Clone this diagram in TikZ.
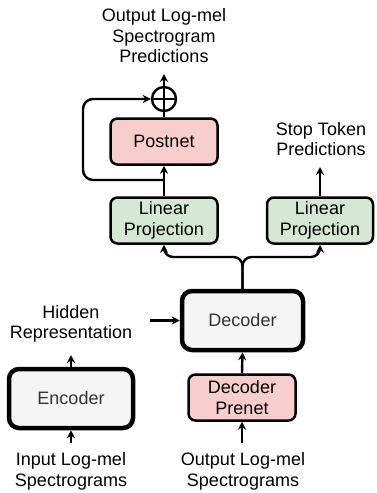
\documentclass[tikz,border=0pt]{standalone}
\usepackage{fontspec}
\setmainfont{Liberation Sans}
\usetikzlibrary{arrows.meta}
\begin{document}
\begin{tikzpicture}[x=1pt,y=-1pt,
  txt/.style={align=center, inner sep=0pt, font=\fontsize{18}{20.5}\selectfont},
  thinbox/.style={txt, draw, line width=2.5pt, rounded corners=7pt},
  thickbox/.style={txt, draw, line width=4.5pt, rounded corners=10pt, fill=boxgray, text=textgray},
  conn/.style={line width=2.4pt},
  arr/.style={conn, -{Stealth[length=8pt,width=8pt]}}
]
\definecolor{pinkfill}{HTML}{F8CECC}
\definecolor{greenfill}{HTML}{D5E8D4}
\definecolor{boxgray}{HTML}{F5F5F5}
\definecolor{textgray}{HTML}{333333}
\useasboundingbox (0,0) rectangle (376,493);

% boxes
\node[thinbox, fill=pinkfill, minimum width=107pt, minimum height=46pt] (postnet) at (164,141.5) {Postnet};
\node[thinbox, fill=greenfill, minimum width=107pt, minimum height=46pt] (linL) at (164,220.5) {Linear\\Projection};
\node[thinbox, fill=greenfill, minimum width=106pt, minimum height=46pt] (linR) at (320,220.5) {Linear\\Projection};
\node[thickbox, minimum width=121pt, minimum height=59pt] (decoder) at (242.5,320.5) {Decoder};
\node[thickbox, minimum width=124pt, minimum height=59pt] (encoder) at (71,398.5) {Encoder};
\node[thinbox, fill=pinkfill, minimum width=107pt, minimum height=46pt] (prenet) at (242,397.5) {Decoder\\Prenet};

% plus
\node[draw, circle, line width=2.4pt, minimum size=24pt, inner sep=0pt] (plus) at (164,99) {};
\draw[conn] (plus.north) -- (plus.south) (plus.west) -- (plus.east);

% labels
\node[txt] (outlabel) at (164,36) {Output Log-mel\\Spectrogram\\Predictions};
\node[txt] (stoplabel) at (321,139) {Stop Token\\Predictions};
\node[txt] (hidden) at (71,324) {Hidden\\Representation};
\node[txt] (inlabel) at (71,471.5) {Input Log-mel\\Spectrograms};
\node[txt] (outspec) at (243,471.5) {Output Log-mel\\Spectrograms};

% free ends
\coordinate (outtip) at (164,74);
\coordinate (stoptip) at (320,167);
\coordinate (hidstart) at (150,320.5);
\coordinate (enctip) at (71,355);
\coordinate (instart) at (71,443);
\coordinate (outstart) at (242,443);
\coordinate (fb) at (164,180);

% connectors
\draw[arr] (plus.north) -- (outtip);
\draw[conn] (postnet.north) -- (plus.south);
\draw[arr] (linL.north) -- (postnet.south);
\draw[arr, rounded corners=10pt] (fb) -- (83,180) -- (83,99) -- (plus.west);
\draw[arr] (linR.north) -- (stoptip);
\draw[arr, rounded corners=9pt] (decoder.north) -- (decoder.north |- 0,257) -| (linL.south);
\draw[arr, rounded corners=9pt] (decoder.north) -- (decoder.north |- 0,257) -| (linR.south);
\draw[arr] (hidstart) -- (decoder.west);
\draw[arr] (encoder.north) -- (enctip);
\draw[arr] (prenet.north) -- (decoder.south);
\draw[arr] (instart) -- (encoder.south);
\draw[arr] (outstart) -- (prenet.south);
\end{tikzpicture}
\end{document}
